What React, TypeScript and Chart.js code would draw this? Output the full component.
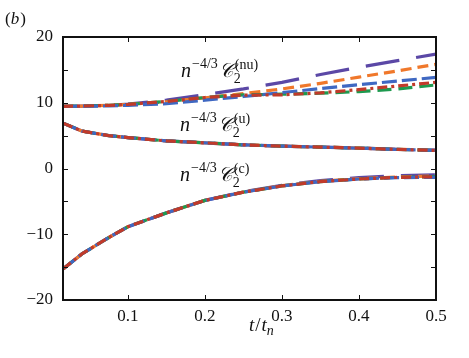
import React, { useEffect, useRef } from "react";
import { Chart, registerables } from "chart.js";

Chart.register(...registerables);

// ---- data ----
const tValues = [0.015625, 0.04, 0.075, 0.1, 0.15, 0.2, 0.25, 0.3, 0.35, 0.4, 0.45, 0.5];

// n^{-4/3} C2^(nu)
const nuPurple = [9.45, 9.5, 9.6, 9.8, 10.4, 11.25, 12.1, 13.1, 14.3, 15.4, 16.4, 17.4];
const nuOrange = [9.45, 9.5, 9.6, 9.75, 10.15, 10.75, 11.4, 12.1, 12.95, 13.9, 14.85, 15.85];
const nuBlue = [9.45, 9.47, 9.52, 9.6, 9.85, 10.4, 10.95, 11.55, 12.15, 12.75, 13.3, 13.85];
const nuGreen = [9.45, 9.5, 9.6, 9.75, 10.2, 10.8, 11.2, 11.3, 11.45, 11.7, 12.1, 12.7];
const nuRed = [9.45, 9.5, 9.6, 9.75, 10.2, 10.8, 11.15, 11.2, 11.5, 12.0, 12.55, 13.1];

// n^{-4/3} C2^(u)
const uPurple = [6.9, 5.7, 5.0, 4.7, 4.2, 3.9, 3.6, 3.4, 3.25, 3.1, 2.92, 2.78];
const uOrange = [6.9, 5.7, 5.0, 4.7, 4.2, 3.9, 3.6, 3.4, 3.25, 3.1, 2.91, 2.77];
const uBlue = [6.9, 5.7, 5.0, 4.7, 4.2, 3.9, 3.6, 3.4, 3.25, 3.1, 2.9, 2.75];
const uGreen = [6.9, 5.7, 5.0, 4.7, 4.2, 3.9, 3.6, 3.4, 3.25, 3.1, 2.9, 2.75];
const uRed = [6.9, 5.7, 5.0, 4.7, 4.2, 3.9, 3.6, 3.4, 3.25, 3.1, 2.9, 2.75];

// n^{-4/3} C2^(c)
const cPurple = [-15.3, -13.0, -10.5, -8.85, -6.75, -4.85, -3.55, -2.55, -1.85, -1.4, -1.1, -0.95];
const cOrange = [-15.3, -13.0, -10.5, -8.85, -6.75, -4.85, -3.58, -2.6, -1.95, -1.55, -1.28, -1.15];
const cBlue = [-15.3, -13.0, -10.5, -8.85, -6.75, -4.85, -3.6, -2.65, -2.0, -1.6, -1.38, -1.35];
const cGreen = [-15.3, -13.0, -10.5, -8.85, -6.75, -4.85, -3.6, -2.65, -2.0, -1.6, -1.35, -1.25];
const cRed = [-15.3, -13.0, -10.5, -8.85, -6.75, -4.85, -3.6, -2.65, -2.0, -1.6, -1.35, -1.25];

const xTicks = [0.1, 0.2, 0.3, 0.4, 0.5];
const yMin = -20;
const yMax = 20;

const SERIF = "'Liberation Serif', serif";
Chart.defaults.font.family = SERIF;

const styles = {
  purple: { color: "#5b48a6", dash: [34, 17], order: 4 },
  orange: { color: "#f0782b", dash: [11, 6], order: 3 },
  green: { color: "#1e9a4f", dash: [14, 7], order: 2 },
  blue: { color: "#3f68c2", dash: [15, 5], order: 1 },
  red: { color: "#c13a2a", dash: [10, 4, 3, 4], order: 0 },
};

function series(values: number[], key: keyof typeof styles) {
  const s = styles[key];
  return {
    data: values.map((v, i) => ({ x: tValues[i], y: v })),
    borderColor: s.color,
    borderDash: s.dash,
    borderWidth: 3.2,
    borderCapStyle: "butt" as const,
    pointRadius: 0,
    tension: 0,
    fill: false,
    order: s.order,
  };
}

function drawMath(ctx: CanvasRenderingContext2D, x: number, y: number, tag: string) {
  ctx.save();
  ctx.fillStyle = "#111";
  ctx.textBaseline = "alphabetic";
  ctx.textAlign = "left";
  ctx.font = `italic 20px ${SERIF}`;
  ctx.fillText("n", x, y);
  x += ctx.measureText("n").width + 1;
  ctx.font = `14px ${SERIF}`;
  ctx.fillText("−4/3", x, y - 9);
  x += ctx.measureText("−4/3").width + 1;
  ctx.font = `italic 20px ${SERIF}`;
  ctx.fillText("𝒞", x, y);
  x += ctx.measureText("𝒞").width;
  ctx.font = `14px ${SERIF}`;
  ctx.fillText("2", x, y + 6);
  ctx.fillText(tag, x + 1, y - 8);
  ctx.restore();
}

const decorPlugin = {
  id: "decor",
  afterDraw(chart: any) {
    const { ctx, chartArea, scales } = chart;
    const { left, right, top, bottom } = chartArea;
    const xs = scales.x;
    const ys = scales.y;
    ctx.save();
    ctx.strokeStyle = "#111";
    ctx.lineWidth = 1;
    // inward ticks
    for (let v = yMin + 5; v < yMax; v += 5) {
      const py = Math.round(ys.getPixelForValue(v)) + 0.5;
      ctx.beginPath();
      ctx.moveTo(left, py);
      ctx.lineTo(left + 5, py);
      ctx.moveTo(right, py);
      ctx.lineTo(right - 5, py);
      ctx.stroke();
    }
    for (const v of xTicks) {
      const px = Math.round(xs.getPixelForValue(v)) + 0.5;
      ctx.beginPath();
      ctx.moveTo(px, bottom);
      ctx.lineTo(px, bottom - 5);
      ctx.moveTo(px, top);
      ctx.lineTo(px, top + 5);
      ctx.stroke();
    }
    // frame
    ctx.lineWidth = 2;
    ctx.strokeRect(left, top, right - left, bottom - top);
    ctx.restore();

    // curve labels
    drawMath(ctx, 181, 77, "(nu)");
    drawMath(ctx, 180, 131, "(u)");
    drawMath(ctx, 180, 181, "(c)");

    // x-axis title t/t_n
    ctx.save();
    ctx.fillStyle = "#111";
    ctx.textAlign = "left";
    ctx.textBaseline = "alphabetic";
    let x = 249;
    const yb = 331;
    ctx.font = `italic 19px ${SERIF}`;
    ctx.fillText("t", x, yb);
    x += ctx.measureText("t").width + 1;
    ctx.font = `19px ${SERIF}`;
    ctx.fillText("/", x, yb);
    x += ctx.measureText("/").width + 1;
    ctx.font = `italic 19px ${SERIF}`;
    ctx.fillText("t", x, yb);
    x += ctx.measureText("t").width;
    ctx.font = `italic 14px ${SERIF}`;
    ctx.fillText("n", x, yb + 4);

    // panel label (b)
    let bx = 5;
    const by = 24;
    ctx.font = `17px ${SERIF}`;
    ctx.fillText("(", bx, by);
    bx += ctx.measureText("(").width;
    ctx.font = `italic 17px ${SERIF}`;
    ctx.fillText("b", bx, by);
    bx += ctx.measureText("b").width + 1;
    ctx.font = `17px ${SERIF}`;
    ctx.fillText(")", bx, by);
    ctx.restore();
  },
};

export default function App() {
  const ref = useRef<HTMLCanvasElement | null>(null);

  useEffect(() => {
    if (!ref.current) return;
    const chart = new Chart(ref.current, {
      type: "line",
      data: {
        datasets: [
          series(nuPurple, "purple"),
          series(nuOrange, "orange"),
          series(nuBlue, "blue"),
          series(nuGreen, "green"),
          series(nuRed, "red"),
          series(uPurple, "purple"),
          series(uOrange, "orange"),
          series(uBlue, "blue"),
          series(uGreen, "green"),
          series(uRed, "red"),
          series(cPurple, "purple"),
          series(cOrange, "orange"),
          series(cBlue, "blue"),
          series(cGreen, "green"),
          series(cRed, "red"),
        ],
      },
      options: {
        animation: false,
        responsive: false,
        maintainAspectRatio: false,
        layout: { padding: { top: 37, right: 33, left: 0, bottom: 0 } },
        plugins: { legend: { display: false }, tooltip: { enabled: false } },
        scales: {
          x: {
            type: "linear",
            min: tValues[0],
            max: 0.5,
            grid: { display: false, drawTicks: false },
            border: { display: false },
            afterBuildTicks: (s: any) => {
              s.ticks = xTicks.map((v) => ({ value: v }));
            },
            afterFit: (s: any) => {
              s.height = 58;
            },
            ticks: {
              autoSkip: false,
              maxRotation: 0,
              padding: 6,
              color: "#111",
              font: { family: SERIF, size: 17 },
              callback: (v: any) => Number(v).toFixed(1),
            },
          },
          y: {
            type: "linear",
            min: yMin,
            max: yMax,
            grid: { display: false, drawTicks: false },
            border: { display: false },
            afterFit: (s: any) => {
              s.width = 63;
            },
            ticks: {
              stepSize: 5,
              autoSkip: false,
              padding: 10,
              color: "#111",
              font: { family: SERIF, size: 17 },
              callback: (v: any) => {
                const n = Number(v);
                if (n % 10 !== 0) return "";
                return n < 0 ? "−" + Math.abs(n) : String(n);
              },
            },
          },
        },
      },
      plugins: [decorPlugin],
    });
    return () => chart.destroy();
  }, []);

  return (
    <div style={{ position: "fixed", left: 0, top: 0, width: 469, height: 358, background: "#fff" }}>
      <canvas ref={ref} width={469} height={358} style={{ width: 469, height: 358 }} />
    </div>
  );
}
